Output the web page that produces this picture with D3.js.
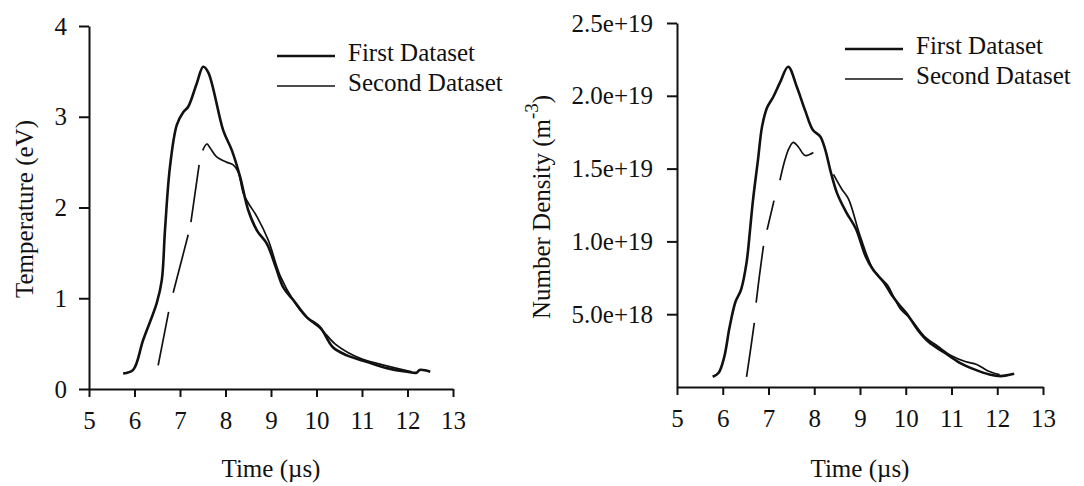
<!DOCTYPE html>
<html>
<head>
<meta charset="utf-8">
<script src="https://cdn.jsdelivr.net/npm/d3@7"></script>
<style>
  html, body { margin: 0; padding: 0; background: #fff; }
  svg { display: block; }
  text { font-family: "Liberation Serif", "Times New Roman", serif; fill: #111; }
</style>
</head>
<body>
<div id="chart"></div>
<script>
// time axis ticks, shared by both panels
const timeTicks = [5, 6, 7, 8, 9, 10, 11, 12, 13];

// left panel: temperature (eV)
const tempTicks = [0, 1, 2, 3, 4];
const tempTimeFirst = [5.75, 5.97, 6.19, 6.49, 6.6, 6.67, 6.78, 6.93, 7.07, 7.18, 7.37, 7.51, 7.62, 7.95, 8.14, 8.32, 8.5, 8.7, 8.91, 9.1, 9.27, 9.49, 9.79, 10.08, 10.36, 10.67, 11.1, 11.55, 11.99, 12.2, 12.27, 12.5];
const tempFirst = [0.17, 0.21, 0.54, 0.95, 1.2, 1.75, 2.45, 2.91, 3.05, 3.11, 3.37, 3.55, 3.49, 2.85, 2.63, 2.34, 1.97, 1.74, 1.6, 1.35, 1.12, 0.98, 0.79, 0.68, 0.46, 0.37, 0.3, 0.23, 0.19, 0.18, 0.21, 0.19];
// null = gap in the trace
const tempTimeSecond = [6.52, 6.75, 6.8, 6.85, 7.0, 7.18, 7.21, 7.24, 7.42, 7.46, 7.5, 7.59, 7.67, 7.8, 8.02, 8.17, 8.28, 8.39, 8.5, 8.69, 8.94, 9.2, 9.5, 9.8, 10.1, 10.4, 10.7, 11.0, 11.5, 12.0, 12.1];
const tempSecond = [0.26, 0.85, null, 1.06, 1.35, 1.7, null, 1.84, 2.47, null, 2.63, 2.7, 2.65, 2.56, 2.5, 2.47, 2.39, 2.16, 2.05, 1.9, 1.64, 1.25, 0.97, 0.78, 0.66, 0.5, 0.4, 0.33, 0.26, 0.2, 0.19];

// right panel: number density, in units of 1e18 m^-3
const densTicks = [5, 10, 15, 20, 25];
const densTickLabels = ["5.0e+18", "1.0e+19", "1.5e+19", "2.0e+19", "2.5e+19"];
const densTimeFirst = [5.78, 5.91, 6.03, 6.15, 6.28, 6.4, 6.52, 6.6, 6.66, 6.77, 6.86, 6.97, 7.1, 7.25, 7.43, 7.62, 7.8, 7.97, 8.13, 8.24, 8.35, 8.5, 8.7, 8.91, 9.12, 9.28, 9.53, 9.69, 9.86, 10.02, 10.27, 10.51, 10.84, 11.17, 11.5, 11.83, 12.08, 12.2, 12.37];
const densFirst = [0.7, 0.98, 2.03, 4.12, 5.87, 6.68, 8.54, 10.9, 12.8, 15.6, 17.9, 19.2, 19.9, 20.9, 22.0, 20.6, 19.0, 17.65, 17.2, 16.3, 14.9, 13.3, 12.0, 10.87, 9.0, 8.08, 7.15, 6.33, 5.63, 5.05, 3.89, 3.07, 2.37, 1.68, 1.21, 0.86, 0.75, 0.8, 0.91];
const densTimeSecond = [6.52, 6.6, 6.69, 6.71, 6.73, 6.8, 6.89, 6.93, 6.97, 7.12, 7.18, 7.25, 7.36, 7.45, 7.54, 7.65, 7.8, 7.98, 8.2, 8.42, 8.6, 8.75, 9.0, 9.3, 9.6, 9.75, 9.9, 10.1, 10.4, 10.7, 11.0, 11.3, 11.55, 11.8, 12.05];
const densSecond = [0.7, 2.4, 4.4, null, 5.8, 7.6, 9.7, null, 10.8, 12.8, null, 14.2, 15.6, 16.4, 16.8, 16.5, 15.9, 16.1, null, 14.6, 13.6, 12.9, 10.4, 8.0, 7.0, 6.1, 5.3, 4.7, 3.5, 2.8, 2.15, 1.75, 1.55, 1.1, 0.85];

const legendLabels = ["First Dataset", "Second Dataset"];

const W = 1084, H = 486;
const svg = d3.select("#chart").append("svg").attr("width", W).attr("height", H);

function zip(xs, ys) {
  return xs.map((t, i) => ({ t: t, v: ys[i] }));
}

function drawPanel(p) {
  const x = d3.scaleLinear().domain([5, 13]).range([p.left, p.right]);
  const y = d3.scaleLinear().domain(p.yDomain).range([p.bottom, p.top]);
  const g = svg.append("g");

  // axes
  const xAxis = g.append("g")
    .attr("transform", `translate(0,${p.bottom})`)
    .call(d3.axisBottom(x).tickValues(timeTicks).tickSize(8).tickSizeOuter(0).tickPadding(14));
  const yAxis = g.append("g")
    .attr("transform", `translate(${p.left},0)`)
    .call(d3.axisLeft(y).tickValues(p.yTicks).tickSize(10).tickSizeOuter(0).tickPadding(p.yPad)
      .tickFormat((d, i) => p.yLabels ? p.yLabels[i] : d));
  [xAxis, yAxis].forEach(a => {
    a.selectAll("path, line").attr("stroke", "#111").attr("stroke-width", 2);
    a.selectAll("text").attr("font-size", 25).attr("font-family", "Liberation Serif, serif").attr("fill", "#111");
  });

  // smooth traces, gaps where value is null
  const line = d3.line()
    .defined(d => d.v != null)
    .curve(d3.curveCatmullRom.alpha(0.5))
    .x(d => x(d.t))
    .y(d => y(d.v));

  g.append("path")
    .datum(zip(p.tSecond, p.second))
    .attr("d", line)
    .attr("fill", "none")
    .attr("stroke", "#111")
    .attr("stroke-width", 1.7)
    .attr("stroke-linejoin", "round");

  g.append("path")
    .datum(zip(p.tFirst, p.first))
    .attr("d", line)
    .attr("fill", "none")
    .attr("stroke", "#111")
    .attr("stroke-width", 2.6)
    .attr("stroke-linejoin", "round");

  // axis titles
  g.append("text")
    .attr("x", p.xTitle[0]).attr("y", p.xTitle[1])
    .attr("text-anchor", "middle").attr("dominant-baseline", "central")
    .attr("font-size", 25)
    .text("Time (\u00b5s)");

  const yt = g.append("text")
    .attr("transform", `translate(${p.yTitle[0]},${p.yTitle[1]}) rotate(-90)`)
    .attr("text-anchor", "middle").attr("dominant-baseline", "central")
    .attr("font-size", 25);
  yt.append("tspan").text(p.yTitleText);
  if (p.yTitleSup) {
    yt.append("tspan").attr("dy", -10).attr("font-size", 19).text(p.yTitleSup);
    yt.append("tspan").attr("dy", 10).text(")");
  }

  // legend
  legendLabels.forEach((lab, i) => {
    const ly = p.legend[1] + i * 30;
    g.append("line")
      .attr("x1", p.legend[0]).attr("x2", p.legend[0] + 58)
      .attr("y1", ly + 4).attr("y2", ly + 4)
      .attr("stroke", "#111").attr("stroke-width", i === 0 ? 2.6 : 1.7);
    g.append("text")
      .attr("x", p.legend[0] + 71).attr("y", ly)
      .attr("dominant-baseline", "central")
      .attr("font-size", 25)
      .text(lab);
  });
}

drawPanel({
  left: 89, right: 453, top: 26, bottom: 389,
  yDomain: [0, 4], yTicks: tempTicks, yLabels: null, yPad: 12,
  tFirst: tempTimeFirst, first: tempFirst,
  tSecond: tempTimeSecond, second: tempSecond,
  xTitle: [271, 468],
  yTitle: [24, 209], yTitleText: "Temperature (eV)", yTitleSup: null,
  legend: [277, 52]
});

drawPanel({
  left: 677, right: 1043, top: 23, bottom: 387,
  yDomain: [0, 25], yTicks: densTicks, yLabels: densTickLabels, yPad: 14,
  tFirst: densTimeFirst, first: densFirst,
  tSecond: densTimeSecond, second: densSecond,
  xTitle: [860, 468],
  yTitle: [541, 207], yTitleText: "Number Density (m", yTitleSup: "-3",
  legend: [845, 45]
});
</script>
</body>
</html>
